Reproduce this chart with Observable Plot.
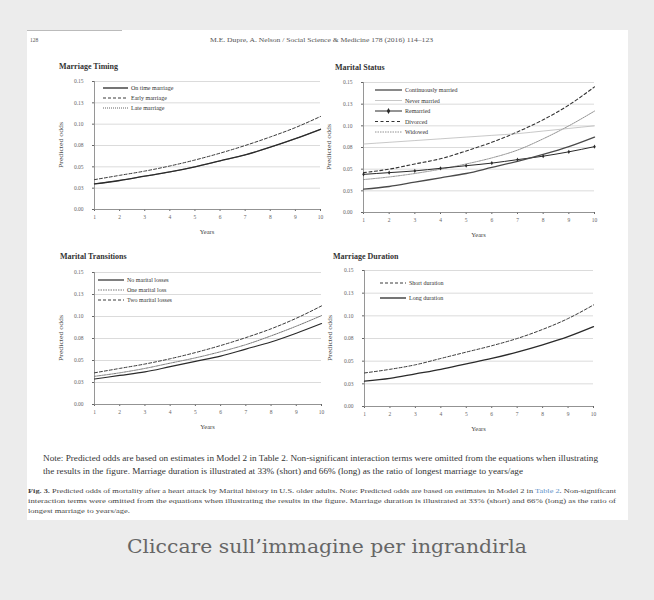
<!DOCTYPE html>
<html><head><meta charset="utf-8">
<script src="https://cdn.jsdelivr.net/npm/d3@7"></script>
<script src="https://cdn.jsdelivr.net/npm/@observablehq/plot@0.6"></script>
<style>
html,body{margin:0;padding:0;background:#ececec;}
#root{position:relative;width:654px;height:600px;overflow:hidden;background:#ececec;}
#root svg.plot{position:absolute;}
</style></head><body><div id="root"></div>
<script>
// ---- data ----
const years = [1,2,3,4,5,6,7,8,9,10];
const yTicks = [0,0.025,0.05,0.075,0.1,0.125,0.15];
const yTickLabels = ["0.00","0.03","0.05","0.08","0.10","0.13","0.15"];

// Marriage Timing
const onTimeMarriage = [0.030,0.034,0.039,0.044,0.050,0.057,0.064,0.073,0.083,0.094];
const earlyMarriage  = [0.035,0.040,0.045,0.051,0.058,0.066,0.075,0.085,0.096,0.109];
const lateMarriage   = [0.030,0.034,0.039,0.044,0.050,0.057,0.064,0.073,0.083,0.094];

// Marital Status
const continuouslyMarried = [0.027,0.030,0.035,0.040,0.045,0.052,0.059,0.067,0.076,0.087];
const neverMarried        = [0.079,0.081,0.083,0.085,0.087,0.089,0.091,0.094,0.097,0.100];
const remarried           = [0.044,0.046,0.048,0.051,0.054,0.057,0.061,0.065,0.070,0.076];
const divorced            = [0.046,0.050,0.056,0.062,0.071,0.081,0.093,0.107,0.124,0.145];
const widowed             = [0.038,0.041,0.045,0.050,0.056,0.063,0.072,0.085,0.100,0.117];

// Marital Transitions
const noMaritalLosses  = [0.029,0.033,0.037,0.043,0.049,0.055,0.063,0.071,0.081,0.092];
const oneMaritalLoss   = [0.032,0.036,0.041,0.047,0.053,0.060,0.068,0.078,0.089,0.101];
const twoMaritalLosses = [0.036,0.041,0.046,0.052,0.059,0.067,0.076,0.086,0.098,0.112];

// Marriage Duration
const shortDuration = [0.037,0.041,0.046,0.053,0.060,0.067,0.075,0.085,0.097,0.112];
const longDuration  = [0.028,0.031,0.036,0.041,0.047,0.053,0.060,0.068,0.077,0.088];

// ---- layout / style ----
const FONT = "'Liberation Serif','Times New Roman',serif";
const panels = [
  {title:"Marriage Timing", left:94, top:81, w:226, h:128, titleX:59, titleY:69,
   ylabX:63, yearsY:234, leg:{x:103, len:25, y:88, dy:10},
   series:[
     {name:"On time marriage", values:onTimeMarriage, stroke:"#2a2a2a", width:1.3, dash:null},
     {name:"Early marriage", values:earlyMarriage, stroke:"#3a3a3a", width:1.0, dash:"3,2"},
     {name:"Late marriage", values:lateMarriage, stroke:"#555", width:0.9, dash:"1,1"}
   ]},
  {title:"Marital Status", left:363, top:82, w:231, h:130, titleX:335, titleY:70,
   ylabX:331, yearsY:237, leg:{x:375, len:27, y:90, dy:10.5},
   series:[
     {name:"Continuously married", values:continuouslyMarried, stroke:"#4a4a4a", width:1.3, dash:null},
     {name:"Never married", values:neverMarried, stroke:"#b0b0b0", width:0.7, dash:null},
     {name:"Remarried", values:remarried, stroke:"#2a2a2a", width:1.0, dash:null, marker:true},
     {name:"Divorced", values:divorced, stroke:"#333", width:1.1, dash:"3,2.5"},
     {name:"Widowed", values:widowed, stroke:"#777", width:0.8, dash:"1.5,1"}
   ]},
  {title:"Marital Transitions", left:94, top:272, w:227, h:132, titleX:60, titleY:259,
   ylabX:63, yearsY:429, leg:{x:98, len:26, y:280, dy:10},
   series:[
     {name:"No marital losses", values:noMaritalLosses, stroke:"#2a2a2a", width:1.2, dash:null},
     {name:"One marital loss", values:oneMaritalLoss, stroke:"#777", width:1.0, dash:"1.5,1"},
     {name:"Two marital losses", values:twoMaritalLosses, stroke:"#3a3a3a", width:1.0, dash:"3,2"}
   ]},
  {title:"Marriage Duration", left:364, top:270, w:229, h:136, titleX:333, titleY:259,
   ylabX:332, yearsY:431, leg:{x:380, len:26, y:283, dy:15},
   series:[
     {name:"Short duration", values:shortDuration, stroke:"#3a3a3a", width:1.0, dash:"3,2"},
     {name:"Long duration", values:longDuration, stroke:"#2a2a2a", width:1.3, dash:null}
   ]}
];

const root = d3.select("#root");
// white page image
root.append("div").style("position","absolute").style("left","27px").style("top","30px")
  .style("width","601px").style("height","490px").style("background","#fff");

const mL=32, mR=8, mT=6, mB=16;
for (const p of panels) {
  const marks = [
    Plot.gridY(yTicks, {stroke:"#d2d2d2", strokeOpacity:1, strokeWidth:0.8}),
    Plot.axisY({ticks:yTicks, tickFormat:d=>yTickLabels[yTicks.indexOf(d)], tickSize:2, tickPadding:9, fontSize:5.5, label:null}),
    Plot.axisX({ticks:years, tickFormat:d=>String(d), tickSize:2, tickPadding:4, fontSize:5.5, label:null}),
    Plot.ruleY([0], {stroke:"#8a8a8a", strokeWidth:0.9}),
    Plot.ruleX([1], {stroke:"#8a8a8a", strokeWidth:0.9})
  ];
  for (const s of p.series.slice().reverse()) {
    const rows = years.map((yr,i)=>({year:yr, value:s.values[i]}));
    marks.push(Plot.line(rows, {x:"year", y:"value", stroke:s.stroke, strokeWidth:s.width,
      strokeDasharray:s.dash || undefined, curve:"monotone-x"}));
    if (s.marker) marks.push(Plot.dot(rows, {x:"year", y:"value", r:1.3, fill:s.stroke, symbol:"diamond"}));
  }
  const chart = Plot.plot({
    width: p.w+mL+mR, height: p.h+mT+mB,
    marginLeft:mL, marginRight:mR, marginTop:mT, marginBottom:mB,
    style:{fontFamily:FONT, fontSize:"5.5px", color:"#666", background:"transparent", overflow:"visible"},
    x:{domain:[1,10]},
    y:{domain:[0,0.15]},
    marks
  });
  chart.classList.add("plot");
  chart.style.left = (p.left-mL)+"px";
  chart.style.top = (p.top-mT)+"px";
  chart.style.position = "absolute";
  root.node().appendChild(chart);
}

// ---- text overlay ----
const svg = root.append("svg").attr("width",654).attr("height",600)
  .style("position","absolute").style("left","0").style("top","0").style("pointer-events","none")
  .style("font-family",FONT);

function txt(x,y,s,o={}) {
  const t = svg.append("text").attr("x",x).attr("y",y).text(s)
    .attr("font-size",o.size||6).attr("fill",o.fill||"#333")
    .attr("text-anchor",o.anchor||"start").attr("font-weight",o.weight||"normal");
  if (o.len) t.attr("textLength",o.len).attr("lengthAdjust","spacingAndGlyphs");
  if (o.rotate) t.attr("transform",`rotate(-90,${x},${y})`);
  return t;
}

// header
svg.append("line").attr("x1",27).attr("x2",122).attr("y1",30.5).attr("y2",30.5).attr("stroke","#bbb").attr("stroke-width",1);
txt(30,42,"128",{size:5.5,fill:"#555"});
txt(210,42,"M.E. Dupre, A. Nelson / Social Science & Medicine 178 (2016) 114–123",{size:6.5,fill:"#555",len:223});

for (const p of panels) {
  txt(p.titleX,p.titleY,p.title,{size:8,weight:"bold",fill:"#333"});
  txt(p.left+p.w/2,p.yearsY,"Years",{size:6.5,anchor:"middle",fill:"#444"});
  txt(p.ylabX,p.top+p.h/2,"Predicted odds",{size:7,anchor:"middle",fill:"#444",rotate:true,len:46});
  p.series.forEach((s,i)=>{
    const cy = p.leg.y + i*p.leg.dy;
    const ln = svg.append("line").attr("x1",p.leg.x).attr("x2",p.leg.x+p.leg.len)
      .attr("y1",cy).attr("y2",cy).attr("stroke",s.stroke).attr("stroke-width",s.width);
    if (s.dash) ln.attr("stroke-dasharray",s.dash);
    if (s.marker) svg.append("path").attr("d",d3.symbol(d3.symbolDiamond,10)())
      .attr("transform",`translate(${p.leg.x+p.leg.len/2},${cy})`).attr("fill",s.stroke);
    txt(p.leg.x+p.leg.len+3,cy+2,s.name,{size:6,fill:"#333"});
  });
}

// note under the figure
txt(43,461,"Note: Predicted odds are based on estimates in Model 2 in Table 2. Non-significant interaction terms were omitted from the equations when illustrating",{size:7.5,len:555,fill:"#333"});
txt(43,474,"the results in the figure.  Marriage duration is illustrated at 33% (short) and 66% (long) as the ratio of longest marriage to years/age",{size:7.5,len:480,fill:"#333"});

// figure caption
const c1 = svg.append("text").attr("x",28).attr("y",493).attr("font-size",6).attr("fill","#444")
  .attr("textLength",588).attr("lengthAdjust","spacingAndGlyphs");
c1.append("tspan").attr("font-weight","bold").text("Fig. 3. ");
c1.append("tspan").text("Predicted odds of mortality after a heart attack by Marital history in U.S. older adults. Note: Predicted odds are based on estimates in Model 2 in ");
c1.append("tspan").attr("fill","#5b8fc7").text("Table 2");
c1.append("tspan").text(". Non-significant");
txt(28,503,"interaction terms were omitted from the equations when illustrating the results in the figure. Marriage duration is illustrated at 33% (short) and 66% (long) as the ratio of",{size:6,len:588,fill:"#444"});
txt(28,512.5,"longest marriage to years/age.",{size:6,len:102,fill:"#444"});

// page caption
txt(327,553,"Cliccare sull’immagine per ingrandirla",{size:19,anchor:"middle",fill:"#666",len:400}).attr("font-family","'DejaVu Serif',serif").attr("font-weight","300");
</script></body></html>
